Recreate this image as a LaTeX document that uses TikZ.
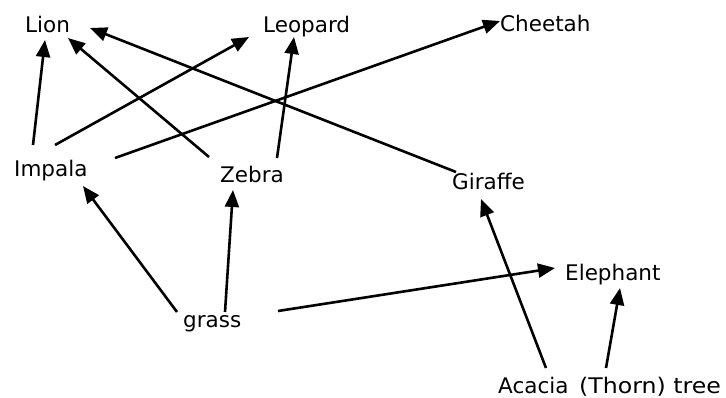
\documentclass[tikz,border=0pt]{standalone}
\usepackage{fontspec}
\setmainfont{DejaVu Sans}
\usetikzlibrary{arrows.meta}
\begin{document}
\begin{tikzpicture}[x=1pt,y=-1pt,
  lbl/.style={anchor=base west,inner sep=0pt,font=\fontsize{21.5}{24}\selectfont},
  arr/.style={line width=2.6pt,-{Triangle[length=17pt,width=14pt]}}]
\useasboundingbox[fill=white] (0,0) rectangle (726,398);
\node[lbl] (lion) at (25,33) {Lion};
\node[lbl] (leopard) at (263,33) {Leopard};
\node[lbl] (cheetah) at (500,32) {Cheetah};
\node[lbl] (impala) at (14,177) {Impala};
\node[lbl] (zebra) at (220,183) {Zebra};
\node[lbl] (giraffe) at (452,190) {Giraffe};
\node[lbl] (elephant) at (565,280) {Elephant};
\node[lbl] (grass) at (183,327) {grass};
\node[lbl] (acacia) at (498,393) {Acacia\hspace{0.5em}\scalebox{1.1}[1]{(Thorn) tree}};
\draw[arr] ([shift={(19,-32)}]impala.base west) -- ([shift={(20,7)}]lion.base west);
\draw[arr] ([shift={(41,-32)}]impala.base west) -- ([shift={(-14,4)}]leopard.base west);
\draw[arr] ([shift={(101,-19)}]impala.base west) -- ([shift={(0,-11)}]cheetah.base west);
\draw[arr] ([shift={(-11,-26)}]zebra.base west) -- ([shift={(43,5)}]lion.base west);
\draw[arr] ([shift={(57,-25)}]zebra.base west) -- ([shift={(31,4)}]leopard.base west);
\draw[arr] ([shift={(4,-18)}]giraffe.base west) -- ([shift={(65,-5)}]lion.base west);
\draw[arr] ([shift={(-6,-15)}]grass.base west) -- ([shift={(69,9)}]impala.base west);
\draw[arr] ([shift={(42,-15)}]grass.base west) -- ([shift={(13,7)}]zebra.base west);
\draw[arr] ([shift={(95,-16)}]grass.base west) -- ([shift={(-10,-12)}]elephant.base west);
\draw[arr] ([shift={(48,-25)}]acacia.base west) -- ([shift={(29,9)}]giraffe.base west);
\draw[arr] ([shift={(108,-25)}]acacia.base west) -- ([shift={(55,8)}]elephant.base west);
\end{tikzpicture}
\end{document}
